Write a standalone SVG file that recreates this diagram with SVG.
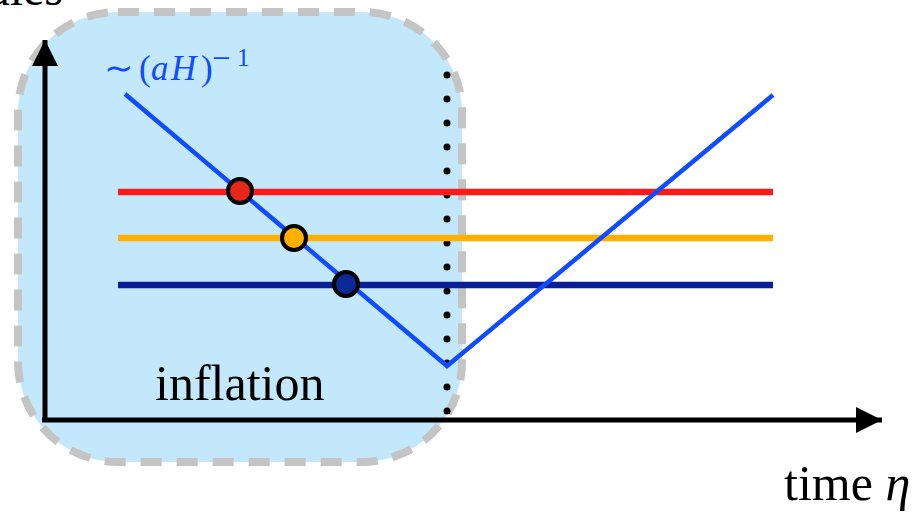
<svg xmlns="http://www.w3.org/2000/svg" width="917" height="513" viewBox="0 0 917 513">
<style>
.serif{font-family:"Liberation Serif","DejaVu Serif",serif;fill:#000}
.hl{stroke-width:6.5;fill:none}
.dot{stroke:#000;stroke-width:4}
</style>
<defs>
<marker id="ah" markerUnits="userSpaceOnUse" markerWidth="28" markerHeight="26" refX="26" refY="13" orient="auto"><path d="M0,0 L26,13 L0,26 z" fill="#000"/></marker>
</defs>
<g id="inflation-region">
<rect x="18" y="12" width="444" height="450" rx="100" ry="100" fill="#c4e8fb" stroke="#c4c4c4" stroke-width="8" stroke-dasharray="21 15"/>
<text class="serif" x="155" y="400" font-size="50">inflation</text>
</g>
<g id="connectors">
<line x1="45" y1="420" x2="45" y2="40" stroke="#000" stroke-width="5" marker-end="url(#ah)"/>
<line x1="42" y1="420" x2="882" y2="420" stroke="#000" stroke-width="5" marker-end="url(#ah)"/>
<line x1="447" y1="75" x2="447" y2="412" stroke="#000" stroke-width="7" stroke-linecap="round" stroke-dasharray="0 24"/>
</g>
<g id="modes">
<line class="hl" x1="118" y1="192" x2="773" y2="192" stroke="#ff1a1a"/>
<line class="hl" x1="118" y1="238" x2="773" y2="238" stroke="#ffb000"/>
<line class="hl" x1="118" y1="285" x2="773" y2="285" stroke="#0a1e96"/>
</g>
<g id="hubble">
<polyline points="125,94 447,366 773,95" fill="none" stroke="#0f4bff" stroke-width="4.5"/>
<text font-family="Liberation Serif, serif" fill="#0f4bff" font-size="35" y="80"><tspan x="104">∼</tspan><tspan x="139">(</tspan><tspan x="151" font-style="italic">a</tspan><tspan x="171" font-style="italic">H</tspan><tspan x="201">)</tspan><tspan x="212" y="69" font-size="33">−</tspan><tspan x="237" y="66" font-size="25">1</tspan></text>
</g>
<g id="crossings">
<circle class="dot" cx="240" cy="191" r="12" fill="#e8261a"/>
<circle class="dot" cx="294" cy="238" r="12" fill="#ffb000"/>
<circle class="dot" cx="346" cy="284" r="12" fill="#0a2896"/>
</g>
<g id="labels">
<text class="serif" x="63" y="5" font-size="48" text-anchor="end">ales</text>
<text class="serif" x="784" y="500" font-size="50">time <tspan font-style="italic">η</tspan></text>
</g>
</svg>
